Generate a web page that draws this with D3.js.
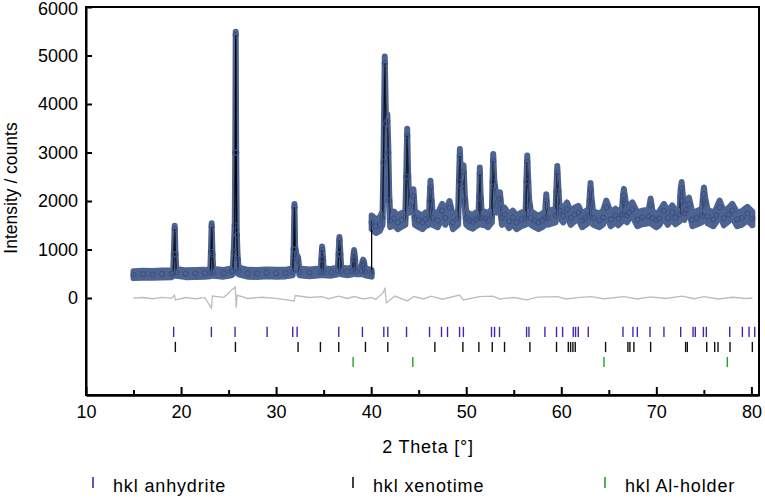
<!DOCTYPE html>
<html>
<head>
<meta charset="utf-8">
<script src="https://cdn.jsdelivr.net/npm/d3@7"></script>
<style>
  body { margin: 0; background: #fff; }
  text { font-family: "Liberation Sans", Arial, sans-serif; fill: #000; }
</style>
</head>
<body>
<div id="plot"></div>
<script>
// observed / calculated profile, first scan range (2 theta, counts)
var profileLow = [
  [15.0, 480], [16.0, 490], [17.0, 485], [18.0, 495], [19.0, 500],
  [19.18, 520], [19.25, 900], [19.33, 1420], [19.41, 900], [19.5, 530],
  [20.5, 500], [21.5, 505], [22.5, 510],
  [23.08, 520], [23.15, 950], [23.22, 1470], [23.3, 900], [23.38, 530],
  [24.5, 510], [25.3, 540],
  [25.45, 560], [25.55, 950], [25.65, 1500], [25.7, 3000], [25.75, 5420], [25.8, 3000], [25.86, 1300], [25.95, 800], [26.05, 560],
  [27.0, 510], [28.0, 505], [29.0, 520], [30.0, 510], [31.0, 515],
  [31.75, 540], [31.85, 1000], [31.93, 1870], [32.0, 1000], [32.15, 820], [32.3, 780], [32.45, 540],
  [33.5, 520],
  [34.7, 540], [34.78, 800], [34.84, 990], [34.92, 800], [35.0, 540],
  [35.8, 530],
  [36.5, 560], [36.58, 900], [36.66, 1190], [36.75, 900], [36.85, 560],
  [37.5, 540],
  [38.05, 560], [38.13, 800], [38.2, 920], [38.28, 800], [38.38, 560],
  [39.0, 560], [39.08, 680], [39.16, 720], [39.25, 680], [39.35, 540],
  [40.05, 510]
];

// second scan range
var profileHigh = [
  [40.05, 1560], [40.5, 1480], [40.9, 1520],
  [41.2, 1650], [41.3, 2800], [41.43, 4840], [41.55, 3600], [41.7, 3650], [41.8, 3000], [41.9, 2000], [42.0, 1600],
  [42.4, 1640], [42.8, 1560], [43.2, 1610],
  [43.6, 1650], [43.7, 2500], [43.79, 3350], [43.88, 2500], [44.0, 1900], [44.45, 2100], [44.6, 1650],
  [45.0, 1600], [45.4, 1560], [45.7, 1620],
  [46.1, 1650], [46.17, 2000], [46.24, 2280], [46.32, 2000], [46.45, 1650],
  [47.0, 1600], [47.47, 1800], [47.8, 1650], [48.24, 1860], [48.6, 1560],
  [49.15, 1650], [49.25, 2400], [49.33, 2930], [49.45, 2300], [49.72, 2600], [49.85, 2000], [50.0, 1650],
  [50.3, 1600], [50.7, 1570], [51.0, 1620],
  [51.3, 1650], [51.38, 2100], [51.43, 2550], [51.5, 2050], [51.62, 1650],
  [52.0, 1640], [52.3, 1600],
  [52.7, 1700], [52.78, 2400], [52.84, 2830], [52.95, 2300], [53.2, 1900], [53.55, 2040], [53.75, 1650],
  [54.05, 1720], [54.5, 1580], [54.9, 1660], [55.3, 1560], [55.8, 1620],
  [56.25, 1650], [56.35, 2400], [56.42, 2800], [56.5, 2400], [56.62, 1900], [56.8, 1650],
  [57.2, 1600], [57.6, 1560], [58.0, 1600],
  [58.3, 1650], [58.42, 2000], [58.55, 1650],
  [59.4, 1700], [59.5, 2200], [59.58, 2580], [59.68, 2200], [59.8, 1800], [60.2, 1700], [60.6, 1830], [61.0, 1650],
  [61.4, 1720], [61.8, 1760], [62.2, 1600], [62.5, 1640],
  [62.9, 1700], [63.0, 2000], [63.08, 2230], [63.17, 1950], [63.35, 1650],
  [64.0, 1600], [64.4, 1660], [64.74, 1870], [65.2, 1620], [65.7, 1700], [66.0, 1640],
  [66.4, 1720], [66.5, 2000], [66.59, 2110], [66.7, 1950], [66.9, 1700],
  [67.1, 1760], [67.47, 1830], [68.0, 1620], [68.5, 1660],
  [69.2, 1680], [69.4, 1910], [69.6, 1650],
  [70.0, 1600], [70.3, 1640], [70.8, 1800], [71.2, 1650], [71.68, 1770], [72.0, 1660],
  [72.45, 1720], [72.55, 2100], [72.66, 2250], [72.78, 2000], [72.95, 1750],
  [73.1, 1820], [73.43, 1930], [73.8, 1620], [74.2, 1650],
  [74.8, 1700], [74.92, 2000], [75.01, 2140], [75.12, 1950], [75.4, 1680],
  [76.0, 1620], [76.3, 1700], [76.66, 1870], [77.1, 1640], [77.6, 1720], [78.0, 1800], [78.5, 1620], [79.0, 1650],
  [79.58, 1740], [80.1, 1640]
];

// scatter of the observed points about the profile (counts), per range
var scatter = [70, 140];

// difference curve obs - calc
var diffData = [
  [15, 0], [16, 10], [17, -15], [18, 12], [19, -8], [19.3, 60], [19.4, -40], [20.5, 10], [21.5, -15], [22.5, 8],
  [23.2, -210], [23.3, 40], [24.5, 15], [25.7, 230], [25.8, -200], [25.9, 60], [27, -10], [28.5, 15], [30, -8],
  [31.9, -60], [32.0, 50], [33.5, 10], [34.8, 30], [35.5, -15], [36.6, 40], [37.5, -10], [38.2, 30], [39.2, -20],
  [40.0, 10], [40.5, -30], [41.3, 120], [41.45, 210], [41.6, -100], [42.5, 40], [43.8, -60], [44.5, 30], [45.5, -20],
  [46.3, 40], [47.5, -25], [49.3, 60], [49.7, -40], [51.4, 30], [52.8, 40], [53.5, -20], [55, 10], [56.4, -40],
  [57.5, 20], [59.6, 30], [60.5, -20], [62, 15], [63.1, 30], [64.5, -15], [66.6, 30], [68, -20], [69.4, 25],
  [71, -10], [72.7, 40], [74, -15], [75, 30], [76.5, -20], [78, 15], [79.5, -10], [80.1, 0]
];

// reflection positions (2 theta)
var hklAnhydrite = [19.22, 23.19, 25.68, 29.05, 31.75, 32.21, 36.59, 39.08, 41.33, 41.75, 43.72, 46.14, 47.4, 48.03,
  49.3, 49.7, 52.66, 52.98, 53.5, 56.35, 56.6, 58.28, 59.5, 60.14, 61.26, 61.5, 61.79, 62.84, 66.49, 67.54, 68.0,
  69.33, 70.8, 72.56, 73.86, 74.1, 74.95, 75.26, 77.72, 79.05, 79.75, 80.35];
var hklXenotime = [19.4, 25.72, 32.31, 34.66, 36.59, 39.4, 41.75, 46.7, 49.65, 51.33, 52.74, 54.03, 56.7, 59.5,
  60.74, 60.98, 61.22, 61.47, 64.66, 67.01, 67.22, 67.64, 69.4, 73.08, 73.26, 75.3, 76.14, 76.49, 77.75, 80.1];
var hklAlHolder = [38.1, 44.38, 64.49, 77.47];

var phaseNames = ["hkl anhydrite", "hkl xenotime", "hkl Al-holder"];
var phaseColors = ["#4b22b0", "#111111", "#22a022"];

var xTicks = [10, 20, 30, 40, 50, 60, 70, 80];
var xMinor = [15, 25, 35, 45, 55, 65, 75];
var yTicks = [0, 1000, 2000, 3000, 4000, 5000, 6000];

var width = 765, height = 500;
var plot = {left: 86, right: 759, top: 7, bottom: 395};

var svg = d3.select("#plot").append("svg")
  .attr("width", width)
  .attr("height", height);

var x = d3.scaleLinear().domain([10, 80.8]).range([plot.left, plot.right]);
var y = d3.scaleLinear().domain([-2000, 6000]).range([plot.bottom, plot.top]);

// difference curve
svg.append("path")
  .datum(diffData)
  .attr("fill", "none")
  .attr("stroke", "#bdbdbd")
  .attr("stroke-width", 1.3)
  .attr("d", d3.line().x(d => x(d[0])).y(d => y(d[1])));

var obsColor = "#4d6391";
var segs = [profileLow, profileHigh];
var band = (s) => d3.area().x(d => x(d[0])).y0(d => y(d[1] - s)).y1(d => y(d[1] + s));

// observed points, drawn as a dense band
segs.forEach(function(seg, i) {
  svg.append("path")
    .datum(seg)
    .attr("fill", obsColor)
    .attr("stroke", obsColor)
    .attr("stroke-width", 6)
    .attr("stroke-linejoin", "round")
    .attr("d", band(scatter[i]));
});

// calculated profile
svg.append("path")
  .datum(profileLow.concat(profileHigh))
  .attr("fill", "none")
  .attr("stroke", "#000")
  .attr("stroke-width", 1.3)
  .attr("d", d3.line().x(d => x(d[0])).y(d => y(d[1])));

// scatter band again on top so the calc line only shows on the steep peaks
segs.forEach(function(seg, i) {
  svg.append("path")
    .datum(seg)
    .attr("fill", obsColor)
    .attr("d", band(scatter[i]));
  svg.append("g").selectAll("circle")
    .data(seg)
    .enter().append("circle")
    .attr("cx", d => x(d[0]))
    .attr("cy", d => y(d[1]))
    .attr("r", 2.6)
    .attr("fill", "none")
    .attr("stroke", "#3a4f80")
    .attr("stroke-width", 1);
});

// reflection markers
var rows = [-700, -1010, -1320];
[hklAnhydrite, hklXenotime, hklAlHolder].forEach(function(list, i) {
  svg.append("g").selectAll("line")
    .data(list.filter(d => x(d) < plot.right - 2))
    .enter().append("line")
    .attr("x1", d => x(d)).attr("x2", d => x(d))
    .attr("y1", y(rows[i] + 105)).attr("y2", y(rows[i] - 105))
    .attr("stroke", phaseColors[i])
    .attr("stroke-width", 1.4);
});

// axes
svg.append("g")
  .attr("transform", "translate(0," + plot.bottom + ")")
  .call(d3.axisBottom(x).tickValues(xTicks).tickSize(-8).tickSizeOuter(0).tickPadding(10)
    .tickFormat(d3.format("d")));
svg.append("g")
  .attr("transform", "translate(0," + plot.bottom + ")")
  .call(d3.axisBottom(x).tickValues(xMinor).tickSize(-5).tickSizeOuter(0).tickFormat(""));
var yAxis = svg.append("g")
  .attr("transform", "translate(" + plot.left + ",0)")
  .call(d3.axisLeft(y).tickValues(yTicks).tickSize(-6).tickSizeOuter(0).tickPadding(8)
    .tickFormat(d3.format("d")));
// top label sits a little lower than its tick, as in the original
yAxis.selectAll(".tick text").filter(d => d === 6000).attr("y", 2);

svg.selectAll(".tick line").attr("stroke", "#000").attr("stroke-width", 2);
svg.selectAll(".domain").attr("stroke", "#000").attr("stroke-width", 2);
svg.selectAll(".tick text").style("font-size", "18px").style("font-family", "Liberation Sans, Arial, sans-serif");

// frame
svg.append("rect")
  .attr("x", plot.left).attr("y", plot.top)
  .attr("width", plot.right - plot.left).attr("height", plot.bottom - plot.top)
  .attr("fill", "none").attr("stroke", "#000").attr("stroke-width", 2);

// titles
svg.append("text")
  .attr("x", 428).attr("y", 453)
  .attr("text-anchor", "middle")
  .style("font-size", "18px")
  .style("letter-spacing", "0.8px")
  .text("2 Theta [°]");
svg.append("text")
  .attr("transform", "translate(17,188) rotate(-90)")
  .attr("text-anchor", "middle")
  .style("font-size", "17.5px")
  .text("Intensity / counts");

// legend
var legendX = [93, 353, 605];
var legend = svg.append("g").selectAll("g")
  .data(phaseNames)
  .enter().append("g")
  .attr("transform", (d, i) => "translate(" + legendX[i] + ",0)");
legend.append("line")
  .attr("x1", 0).attr("x2", 0).attr("y1", 477).attr("y2", 488)
  .attr("stroke", (d, i) => phaseColors[i])
  .attr("stroke-width", 1.6);
legend.append("text")
  .attr("x", 20).attr("y", 492)
  .style("font-size", "18px")
  .style("letter-spacing", "0.85px")
  .text(d => d);
</script>
</body>
</html>
